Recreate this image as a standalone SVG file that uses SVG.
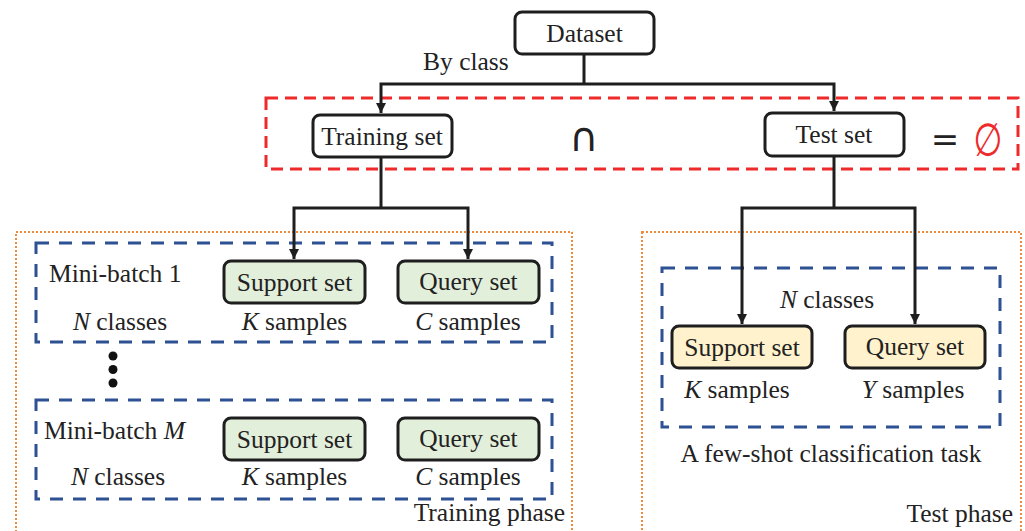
<svg xmlns="http://www.w3.org/2000/svg" width="1025" height="531" viewBox="0 0 1025 531">
<style>
  .t { font-family: "Liberation Serif", "Times New Roman", serif; font-size: 25.5px; fill: #222; }
  .i { font-style: italic; }
  .box { stroke: #1e1e1e; stroke-width: 3; fill: #fff; }
  .green { fill: #e2efda; }
  .yellow { fill: #fff2cc; }
  .red { fill: none; stroke: #ee2a2a; stroke-width: 3; stroke-dasharray: 12 7; }
  .blue { fill: none; stroke: #2d5193; stroke-width: 3; stroke-dasharray: 13 10; }
  .orange { fill: none; stroke: #f08a3c; stroke-width: 2; stroke-dasharray: 2 2; }
  .conn { fill: none; stroke: #1e1e1e; stroke-width: 3; }
</style>
<defs>
  <marker id="arr" viewBox="0 0 10 10" refX="10" refY="5" markerWidth="10" markerHeight="10" markerUnits="userSpaceOnUse" orient="auto">
    <path d="M0,0 L10,5 L0,10 z" fill="#1e1e1e"/>
  </marker>
</defs>
<rect width="1025" height="531" fill="#fff"/>

<g id="regions">
  <rect class="orange" x="16" y="232" width="556" height="310"/>
  <rect class="orange" x="642" y="232" width="379" height="310"/>
  <rect class="red" x="266" y="98" width="752" height="71"/>
  <rect class="blue" x="36" y="243" width="516" height="99"/>
  <rect class="blue" x="36" y="400" width="516" height="99"/>
  <rect class="blue" x="662" y="268" width="338" height="159"/>
</g>

<g id="connectors">
  <path class="conn" d="M584,54 V84"/>
  <path class="conn" d="M584,84 H381 V113" marker-end="url(#arr)"/>
  <path class="conn" d="M584,84 H834 V111" marker-end="url(#arr)"/>
  <path class="conn" d="M381,157 V208"/>
  <path class="conn" d="M381,208 H294 V259" marker-end="url(#arr)"/>
  <path class="conn" d="M381,208 H468 V259" marker-end="url(#arr)"/>
  <path class="conn" d="M834,156 V208"/>
  <path class="conn" d="M834,208 H742 V324" marker-end="url(#arr)"/>
  <path class="conn" d="M834,208 H915 V324" marker-end="url(#arr)"/>
</g>

<g id="dataset">
  <rect class="box" x="515" y="12" width="139" height="42" rx="7"/>
  <text class="t" x="584.5" y="42" text-anchor="middle">Dataset</text>
</g>
<text class="t" x="423" y="70">By class</text>

<g id="training-set">
  <rect class="box" x="313" y="115" width="139" height="42" rx="7"/>
  <text class="t" x="382" y="145" text-anchor="middle">Training set</text>
</g>
<g id="test-set">
  <rect class="box" x="765" y="113" width="139" height="43" rx="7"/>
  <text class="t" x="834" y="143" text-anchor="middle">Test set</text>
</g>
<g id="set-ops">
  <text x="584" y="151" text-anchor="middle" style="font-family:'DejaVu Sans',sans-serif;font-size:40px;fill:#222">∩</text>
  <text x="945" y="151" text-anchor="middle" style="font-family:'DejaVu Sans',sans-serif;font-size:34px;fill:#222">=</text>
  <text transform="translate(988,156) scale(0.72,1)" x="0" y="0" text-anchor="middle" style="font-family:'DejaVu Sans',sans-serif;font-size:46px;fill:#ee2a2a">∅</text>
</g>

<g id="minibatch-1">
  <text class="t" x="49" y="282">Mini-batch 1</text>
  <text class="t" x="120" y="330" text-anchor="middle"><tspan class="i">N</tspan> classes</text>
  <g id="support-1">
    <rect class="box green" x="224" y="261" width="141" height="42" rx="7"/>
    <text class="t" x="294.5" y="291" text-anchor="middle">Support set</text>
  </g>
  <text class="t" x="294.5" y="330" text-anchor="middle"><tspan class="i">K</tspan> samples</text>
  <g id="query-1">
    <rect class="box green" x="398" y="261" width="141" height="42" rx="7"/>
    <text class="t" x="468.5" y="290" text-anchor="middle">Query set</text>
  </g>
  <text class="t" x="468" y="330" text-anchor="middle"><tspan class="i">C</tspan> samples</text>
</g>

<g id="ellipsis">
  <circle cx="113" cy="356" r="4.5" fill="#111"/>
  <circle cx="113" cy="369.5" r="4.5" fill="#111"/>
  <circle cx="113" cy="383" r="4.5" fill="#111"/>
</g>

<g id="minibatch-M">
  <text class="t" x="44" y="439">Mini-batch <tspan class="i">M</tspan></text>
  <text class="t" x="118" y="485" text-anchor="middle"><tspan class="i">N</tspan> classes</text>
  <g id="support-M">
    <rect class="box green" x="224" y="418" width="141" height="42" rx="7"/>
    <text class="t" x="294.5" y="448" text-anchor="middle">Support set</text>
  </g>
  <text class="t" x="294.5" y="485" text-anchor="middle"><tspan class="i">K</tspan> samples</text>
  <g id="query-M">
    <rect class="box green" x="398" y="418" width="141" height="42" rx="7"/>
    <text class="t" x="468.5" y="447" text-anchor="middle">Query set</text>
  </g>
  <text class="t" x="468" y="485" text-anchor="middle"><tspan class="i">C</tspan> samples</text>
</g>
<text class="t" x="565" y="521" text-anchor="end">Training phase</text>

<g id="test-task">
  <text class="t" x="827" y="308" text-anchor="middle"><tspan class="i">N</tspan> classes</text>
  <g id="support-test">
    <rect class="box yellow" x="672" y="326" width="140" height="42" rx="7"/>
    <text class="t" x="742" y="356" text-anchor="middle">Support set</text>
  </g>
  <text class="t" x="737" y="398" text-anchor="middle"><tspan class="i">K</tspan> samples</text>
  <g id="query-test">
    <rect class="box yellow" x="845" y="326" width="140" height="42" rx="7"/>
    <text class="t" x="915" y="355" text-anchor="middle">Query set</text>
  </g>
  <text class="t" x="913" y="398" text-anchor="middle"><tspan class="i">Y</tspan> samples</text>
  <text class="t" x="831" y="462" text-anchor="middle">A few-shot classification task</text>
</g>
<text class="t" x="1013" y="522" text-anchor="end">Test phase</text>
</svg>
